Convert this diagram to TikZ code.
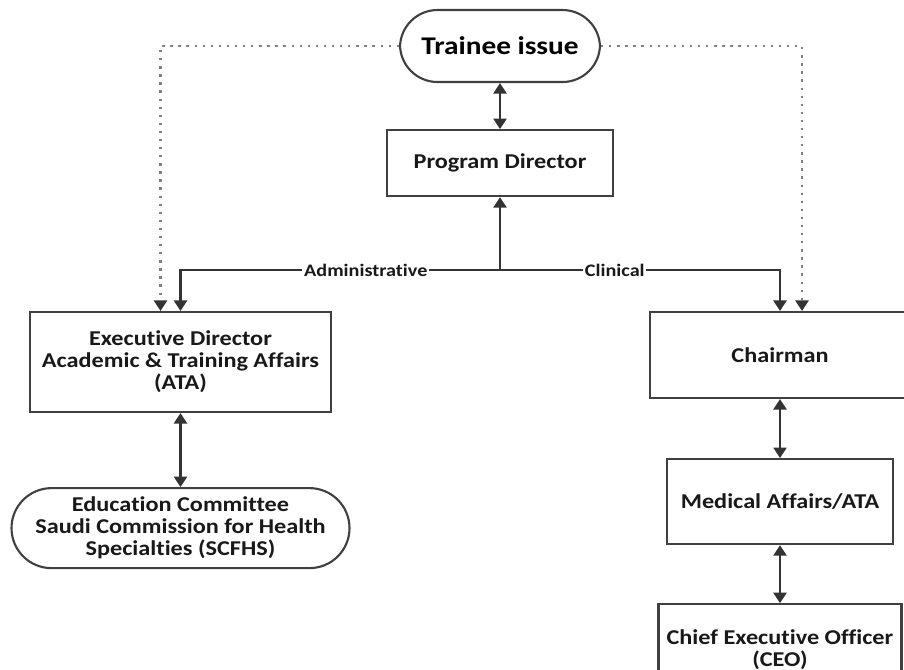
\documentclass[tikz,border=0pt]{standalone}
\usepackage{fontspec}
\setmainfont{Carlito}[FakeStretch=1.15, Ligatures=NoCommon]
\usetikzlibrary{positioning,arrows.meta}

\begin{document}
\begin{tikzpicture}[line width=1.2pt, draw=black!80, text=black!90,
	b/.style={draw=black!75, fill=white, minimum width=4.52cm, align=center, font=\bfseries\fontsize{12}{12.5}\selectfont},
	r/.style={b, rounded corners=0.75cm},
	a/.style={-{Triangle[length=6pt,width=7.5pt]}},
	aa/.style={{Triangle[length=6pt,width=7.5pt]}-{Triangle[length=6pt,width=7.5pt]}},
	d/.style={-{Triangle[length=6pt,width=7.5pt,color=black!80]}, draw=black!50, dash pattern=on 1.3pt off 3.3pt},
	l/.style={fill=white, inner sep=1pt, font=\bfseries\fontsize{10}{12}\selectfont}]
	\clip (0,0) rectangle (18.08,-13.38);
	\node[r, minimum width=4cm, minimum height=1.44cm, font=\bfseries\fontsize{14.5}{16}\selectfont, text=black] (TI) at (10,-0.92) {Trainee issue};
	\node[b, minimum height=1.32cm, below=0.92cm of TI] (PD) {Program Director};
	\coordinate (J) at (10,-5.4);
	\node[b, minimum width=6.02cm, minimum height=2cm] (ED) at (3.61,-7.24) {Executive Director\\Academic \& Training Affairs\\(ATA)};
	\node[r, minimum width=6.76cm, minimum height=1.6cm, rounded corners=0.8cm, below=1.48cm of ED] (EC) {Education Committee\\Saudi Commission for Health\\Specialties (SCFHS)};
	\node[b, minimum width=5.2cm, minimum height=1.72cm] (CH) at (15.6,-7.1) {Chairman};
	\node[b, minimum height=1.7cm, below=1.18cm of CH] (MA) {Medical Affairs/ATA};
	\node[b, minimum width=4.86cm, minimum height=1.8cm, below=1.16cm of MA] (CEO) {Chief Executive Officer\\(CEO)};

	\draw[aa] (TI) -- (PD);
	\draw[a] (J) -- (PD);
	\draw[a] (J) -| node[l, pos=0.21] {Administrative} (ED);
	\draw[a] (J) -| node[l, pos=0.205] {Clinical} (CH);
	\draw[d] (TI.west) -| ([xshift=-0.4cm]ED.north);
	\draw[d] (TI.east) -| ([xshift=0.44cm]CH.north);
	\draw[aa] (ED) -- (EC);
	\draw[aa] (CH) -- (MA);
	\draw[aa] (MA) -- (CEO);
\end{tikzpicture}
\end{document}
